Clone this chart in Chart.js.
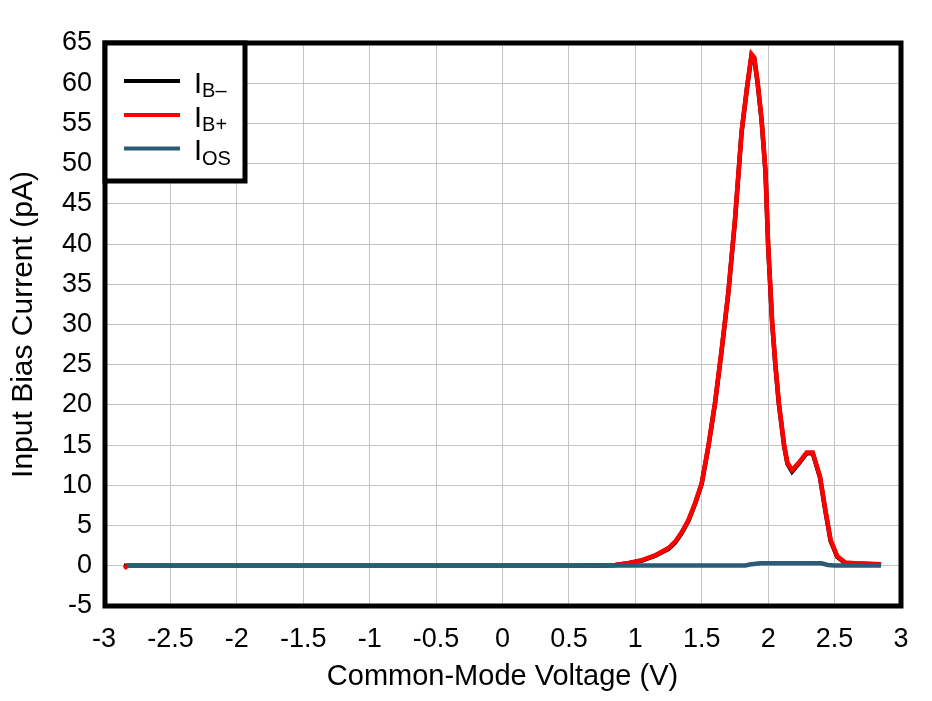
<!DOCTYPE html>
<html>
<head>
<meta charset="utf-8">
<script src="https://cdn.jsdelivr.net/npm/chart.js@4"></script>
<style>
html,body{margin:0;padding:0;background:#fff;}
#wrap{width:932px;height:701px;position:relative;}
</style>
</head>
<body>
<div id="wrap"><canvas id="c" width="932" height="701"></canvas></div>
<script>
// Common-mode voltage (V)
const voltage = [-2.85,-2.82,-2.5,-2,-1.5,-1,-0.5,0,0.5,0.75,0.85,0.95,1.05,1.15,1.25,1.3,1.35,1.4,1.45,1.5,1.55,1.6,1.65,1.7,1.75,1.8,1.84,1.875,1.895,1.92,1.95,1.98,2.0,2.03,2.055,2.08,2.12,2.145,2.18,2.23,2.29,2.335,2.39,2.43,2.47,2.52,2.58,2.68,2.85];
// IB+ (pA)
const ibPlus = [-0.3,0,0,0,0,0,0,0,0,0.05,0.1,0.35,0.7,1.3,2.2,3.0,4.2,5.7,7.8,10.3,14.9,20.3,26.9,34,43,54,59.4,63.6,63.2,60.2,55.6,49,39.8,30.3,24.9,20.3,15.0,12.8,11.9,12.8,14.1,14.1,11.1,7.0,3.2,1.2,0.4,0.3,0.2];
// IB- (pA)
const ibMinus = [0,0,0,0,0,0,0,0,0,0.05,0.1,0.33,0.65,1.25,2.1,2.9,4.1,5.6,7.7,10.2,14.8,20.2,26.8,33.9,42.9,53.9,59.3,63.5,63.1,60.1,55.5,48.9,39.7,30.2,24.8,20.2,14.9,12.7,11.7,12.7,14.0,14.0,11.0,6.9,3.1,1.1,0.35,0.25,0.15];
// IOS (pA)
const iosV = [-2.82,-2.5,-2,-1.5,-1,-0.5,0,0.5,0.78,1.0,1.5,1.83,1.86,1.94,2.1,2.3,2.4,2.45,2.5,2.85];
const ios = [0,0,0,0,0,0,0,0,0.05,0.05,0.05,0.05,0.15,0.3,0.3,0.3,0.3,0.1,0.05,0.05];
const xTicks = {min:-3, max:3, step:0.5};
const yTicks = {min:-5, max:65, step:5};
const legendLabels = [["I","B\u2013"],["I","B+"],["I","OS"]];
const colors = {ibMinus:"#000000", ibPlus:"#ff0000", ios:"#2b5c76"};

const pts = (xs, ys) => xs.map((x,i)=>({x:x, y:ys[i]}));
const FONT = '"Liberation Sans", Arial, sans-serif';

const borderPlugin = {
  id:'border',
  afterDraw(chart){
    const {ctx, chartArea:a} = chart;
    ctx.save();
    ctx.strokeStyle = '#000';
    ctx.lineWidth = 5;
    ctx.strokeRect(a.left+1, a.top, a.right-a.left-1, a.bottom-a.top);
    // legend
    const lx = a.left+1, ly = a.top, lw = 245-lx, lh = 181-ly;
    ctx.fillStyle = '#fff';
    ctx.fillRect(lx, ly, lw, lh);
    ctx.strokeRect(lx, ly, lw, lh);
    const rows = [
      {y:81, c:colors.ibMinus, l:legendLabels[0]},
      {y:115, c:colors.ibPlus, l:legendLabels[1]},
      {y:148.5, c:colors.ios, l:legendLabels[2]}
    ];
    ctx.lineWidth = 4;
    rows.forEach(r=>{
      ctx.strokeStyle = r.c;
      ctx.beginPath(); ctx.moveTo(124, r.y); ctx.lineTo(180, r.y); ctx.stroke();
      ctx.fillStyle = '#000';
      ctx.textBaseline = 'alphabetic';
      ctx.textAlign = 'left';
      ctx.font = '29px ' + FONT;
      ctx.fillText(r.l[0], 194, r.y+11.5);
      const w = ctx.measureText(r.l[0]).width;
      ctx.font = '20px ' + FONT;
      ctx.fillText(r.l[1], 194+w, r.y+16);
    });
    ctx.restore();
  }
};

const fmt = v => { const r = Math.round(v*100)/100; return String(r); };

new Chart(document.getElementById('c'), {
  type:'line',
  data:{
    datasets:[
      {label:'IB-', data:pts(voltage, ibMinus), borderColor:colors.ibMinus, borderWidth:4.5, pointRadius:0, tension:0, order:2},
      {label:'IB+', data:pts(voltage, ibPlus), borderColor:colors.ibPlus, borderWidth:4.5, pointRadius:0, tension:0, order:1},
      {label:'IOS', data:pts(iosV, ios), borderColor:colors.ios, borderWidth:4.5, pointRadius:0, tension:0, order:0}
    ]
  },
  options:{
    responsive:false,
    animation:false,
    events:[],
    layout:{padding:{left:0, top:43, right:31, bottom:0}},
    plugins:{legend:{display:false}, tooltip:{enabled:false}},
    scales:{
      x:{
        type:'linear', min:xTicks.min, max:xTicks.max,
        afterFit(s){ s.height = 95; },
        ticks:{stepSize:xTicks.step, color:'#000', padding:17, maxRotation:0, autoSkip:false,
          font:{family:FONT, size:27}, callback:fmt},
        grid:{color:'#c4c4c4', lineWidth:1, drawTicks:false},
        border:{display:false},
        title:{display:true, text:'Common-Mode Voltage (V)', color:'#000',
          font:{family:FONT, size:29}, padding:{top:0,bottom:7}}
      },
      y:{
        type:'linear', min:yTicks.min, max:yTicks.max,
        afterFit(s){ s.width = 104; },
        ticks:{stepSize:yTicks.step, color:'#000', padding:12, autoSkip:false,
          font:{family:FONT, size:27}, callback:fmt},
        grid:{color:'#c4c4c4', lineWidth:1, drawTicks:false},
        border:{display:false},
        title:{display:true, text:'Input Bias Current (pA)', color:'#000',
          font:{family:FONT, size:30}, padding:{top:6,bottom:0}}
      }
    }
  },
  plugins:[borderPlugin]
});
</script>
</body>
</html>
